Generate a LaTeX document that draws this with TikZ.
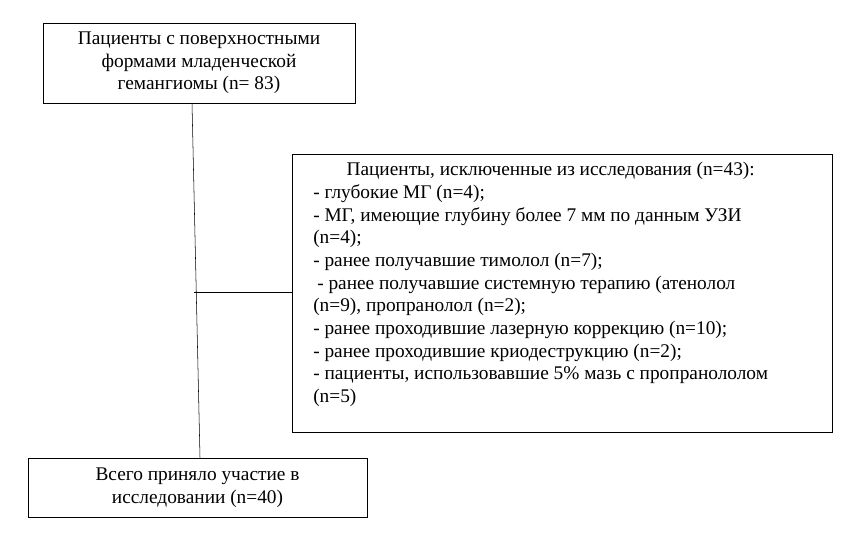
\documentclass[tikz,border=0pt]{standalone}
\usepackage{fontspec}
\setmainfont{Liberation Serif}
\begin{document}
\begin{tikzpicture}[x=0.75pt,y=-0.75pt,
  box/.style={draw,inner sep=0pt},
  every node/.style={font=\fontsize{14.5}{17}\selectfont}]
   \useasboundingbox (0,0) rectangle (853,560);
   % boxes
   \node[box,minimum width=312*0.75pt,minimum height=80*0.75pt,align=center] (pat) at (199,63)
     {Пациенты с поверхностными\\формами младенческой\\гемангиомы (n= 83)};
   \node[box,minimum width=540*0.75pt,minimum height=278*0.75pt] (excl) at (562,293) {};
   \node[anchor=north west,align=left,inner sep=0pt] (excltxt) at (313,162)
     {\hspace*{25pt}Пациенты, исключенные из исследования (n=43):\\
      - глубокие МГ (n=4);\\
      - МГ, имеющие глубину более 7 мм по данным УЗИ\\
      (n=4);\\
      - ранее получавшие тимолол (n=7);\\
      \hspace*{3pt}- ранее получавшие системную терапию (атенолол\\
      (n=9), пропранолол (n=2);\\
      - ранее проходившие лазерную коррекцию (n=10);\\
      - ранее проходившие криодеструкцию (n=2);\\
      - пациенты, использовавшие 5\% мазь с пропранололом\\
      (n=5)};
   \node[box,minimum width=339*0.75pt,minimum height=59*0.75pt,align=center] (all) at (197.5,487.5)
     {Всего приняло участие в\\исследовании (n=40)};
   % connectors
   \draw ([xshift=-7*0.75pt]pat.south) -- ([xshift=2.5*0.75pt]all.north);
   \coordinate (branch) at (194,292);
   \draw (branch) -- (branch -| excl.west);
\end{tikzpicture}
\end{document}
